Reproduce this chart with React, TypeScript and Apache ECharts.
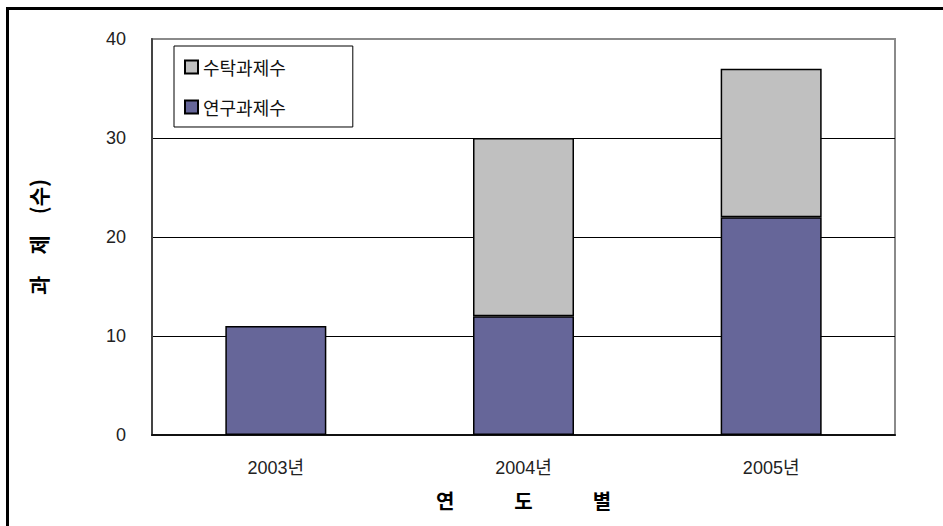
import React, { useEffect, useRef } from "react";
import * as echarts from "echarts";

const categories = ["2003년", "2004년", "2005년"];
const researchCounts = [11, 12, 22];
const contractCounts: (number | null)[] = [null, 18, 15];
const seriesNames = ["연구과제수", "수탁과제수"];
const yTicks = { min: 0, max: 40, interval: 10 };
const xAxisTitle = "연\u3000\u3000\u3000도\u3000\u3000\u3000별";
const yAxisTitle = "과\u3000제\u3000(수)";

const FONT = "'Liberation Sans', 'Noto Sans CJK KR', sans-serif";
const KFONT = "'Noto Sans CJK KR', sans-serif";

export default function App() {
  const ref = useRef<HTMLDivElement>(null);
  useEffect(() => {
    if (!ref.current) return;
    const chart = echarts.init(ref.current, null, { renderer: "svg" });
    chart.setOption({
      animation: false,
      backgroundColor: "#fff",
      grid: {
        left: 152,
        right: 48,
        top: 39,
        bottom: 91,
        show: true,
        borderColor: "#8a8a8a",
        borderWidth: 2,
        backgroundColor: "transparent",
      },
      legend: {
        orient: "vertical",
        left: 174,
        top: 46,
        data: [seriesNames[1], seriesNames[0]],
        icon: "rect",
        itemWidth: 13,
        itemHeight: 13,
        itemGap: 22,
        padding: [12, 67, 11, 10],
        borderColor: "#000",
        borderWidth: 1,
        textStyle: { fontSize: 18, color: "#111", fontFamily: KFONT },
      },
      xAxis: {
        type: "category",
        data: categories,
        name: xAxisTitle,
        nameLocation: "middle",
        nameGap: 55,
        nameTextStyle: { fontSize: 20, fontWeight: "bold", color: "#000", fontFamily: KFONT },
        axisLine: { lineStyle: { color: "#111", width: 2 } },
        axisTick: { inside: true, length: 7, lineStyle: { color: "#666" } },
        axisLabel: { margin: 24, fontSize: 18, color: "#222", fontFamily: FONT },
      },
      yAxis: {
        type: "value",
        min: yTicks.min,
        max: yTicks.max,
        interval: yTicks.interval,
        name: yAxisTitle,
        nameLocation: "middle",
        nameGap: 104,
        nameRotate: 90,
        nameTextStyle: { fontSize: 21, fontWeight: "bold", color: "#000", fontFamily: KFONT },
        axisLine: { show: true, lineStyle: { color: "#444", width: 2 } },
        axisTick: { show: false },
        axisLabel: { margin: 26, fontSize: 18, color: "#222", fontFamily: FONT },
        splitLine: {
          show: true,
          lineStyle: { color: ["#000", "#000", "#000", "#000", "#8a8a8a"], width: 1 },
        },
      },
      series: [
        {
          name: seriesNames[0],
          type: "bar",
          stack: "total",
          data: researchCounts,
          barWidth: 101,
          itemStyle: { color: "#666699", borderColor: "#000", borderWidth: 1.5 },
        },
        {
          name: seriesNames[1],
          type: "bar",
          stack: "total",
          data: contractCounts,
          barWidth: 101,
          itemStyle: { color: "#C0C0C0", borderColor: "#000", borderWidth: 1.5 },
        },
      ],
      graphic: [
        { type: "line", shape: { x1: 7.5, y1: 7, x2: 7.5, y2: 526 }, style: { stroke: "#000", lineWidth: 3 } },
        { type: "line", shape: { x1: 6, y1: 8.5, x2: 943, y2: 8.5 }, style: { stroke: "#000", lineWidth: 3 } },
      ],
    });
    return () => chart.dispose();
  }, []);
  return (
    <div
      ref={ref}
      style={{ position: "fixed", left: 0, top: 0, width: 943, height: 526 }}
    />
  );
}
